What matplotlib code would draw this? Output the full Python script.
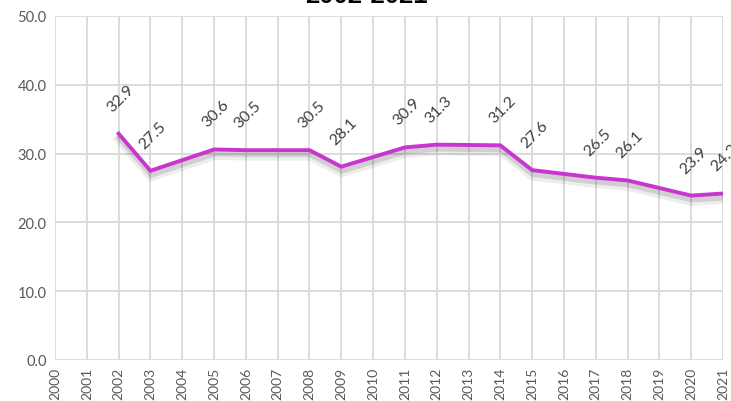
import matplotlib
matplotlib.use("Agg")
import matplotlib.pyplot as plt
import matplotlib.patheffects as pe

years = list(range(2000, 2022))
point_years = [2002, 2003, 2005, 2006, 2008, 2009, 2011, 2012, 2014, 2015, 2017, 2018, 2020, 2021]
point_values = [32.9, 27.5, 30.6, 30.5, 30.5, 28.1, 30.9, 31.3, 31.2, 27.6, 26.5, 26.1, 23.9, 24.2]
title = "2002-2021"

W, H = 731, 402
fig = plt.figure(figsize=(W / 100, H / 100), dpi=100)
ax = fig.add_axes([55 / W, (H - 361) / H, (723 - 55) / W, (361 - 17) / H])

ax.set_xlim(2000, 2021)
ax.set_ylim(0, 50)
ax.set_xticks(years)
ax.set_xticklabels([str(y) for y in years], rotation=90, fontsize=10,
                   color="#595959", family="Lato")
ax.tick_params(axis="x", pad=5)
ax.set_yticks(range(0, 51, 10))
ax.set_yticklabels([f"{v:.1f}" for v in range(0, 51, 10)], fontsize=10.5,
                   color="#595959", family="Lato")
ax.tick_params(length=0)
ax.tick_params(axis="y", pad=6)
ax.grid(True, color="#D9D9D9", linewidth=1.3)
ax.set_axisbelow(True)
for s in ax.spines.values():
    s.set_visible(False)

shadow = [
    pe.SimpleLineShadow(offset=(0.5, -4.0), shadow_color="#000000", alpha=0.07, linewidth=7),
    pe.SimpleLineShadow(offset=(0.5, -3.0), shadow_color="#000000", alpha=0.12, linewidth=4),
    pe.Normal(),
]
ax.plot(point_years, point_values, color="#C935CF", linewidth=2.8,
        solid_joinstyle="miter", path_effects=shadow, zorder=3)

for x, v in zip(point_years, point_values):
    ax.annotate(f"{v:.1f}", (x, v), xytext=(1.5, 26), textcoords="offset points",
                rotation=45, ha="center", va="center", fontsize=11.5,
                color="#404040", family="Lato")

fig.text(366 / W, 1 - 3 / H, title, ha="center", va="baseline",
         fontsize=18.5, fontweight="bold", family="Liberation Sans", color="black")

fig.savefig("out.png", dpi=100, facecolor="white")
